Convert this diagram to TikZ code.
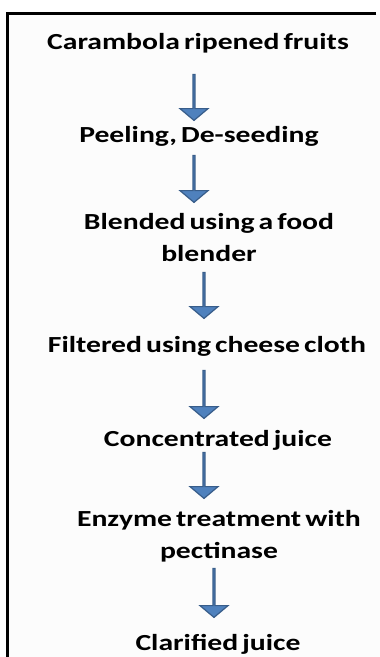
\documentclass[tikz,border=0pt]{standalone}
\usepackage{fontspec}
\setmainfont{Carlito}[WordSpace=0.6]
\usetikzlibrary{shapes.arrows}
\definecolor{arrfill}{HTML}{4F81BD}
\definecolor{arrdraw}{HTML}{385D8A}
\definecolor{panel}{HTML}{FCFCFC}
\newcommand\stretchtxt[1]{\scalebox{1.29}[1]{#1}}
\tikzset{
  stage/.style={font=\bfseries\fontsize{23}{32}\selectfont, inner sep=0pt, align=center, text=black},
  blockarrow/.style={single arrow, shape border rotate=270, draw=arrdraw, fill=arrfill, line width=1.2pt,
    inner sep=0pt, minimum width=28pt, single arrow head extend=8.5pt, single arrow tip angle=100},
  frame/.style={line width=3pt, draw=black}
}
\begin{document}
\begin{tikzpicture}[x=1pt,y=-1pt]
\useasboundingbox (0,0) rectangle (380,657);
\fill[panel] (7.5,13.5) rectangle (380,657);
\draw[frame] (376,13.5) -- (7.5,13.5) -- (7.5,657);
\node[stage] (t1) at (198,43) {\stretchtxt{Carambola ripened fruits}};
\node[stage] (t2) at (199,136) {\stretchtxt{Peeling, De-seeding}};
\node[stage] (t3) at (209,238) {\stretchtxt{Blended using a food}\\\stretchtxt{blender}};
\node[stage] (t4) at (207,346) {\stretchtxt{Filtered using cheese cloth}};
\node[stage] (t5) at (218,440) {\stretchtxt{Concentrated juice}};
\node[stage] (t6) at (219,536) {\stretchtxt{Enzyme treatment with}\\\stretchtxt{pectinase}};
\node[stage] (t7) at (218,644) {\stretchtxt{Clarified juice}};
\node[blockarrow, minimum height=46pt] (a1) at (194,97) {};
\node[blockarrow, minimum height=47pt] (a2) at (194,178.5) {};
\node[blockarrow, minimum height=46pt] (a3) at (204,295) {};
\node[blockarrow, minimum height=48pt] (a4) at (204,394) {};
\node[blockarrow, minimum height=46pt] (a5) at (204,475) {};
\node[blockarrow, minimum height=49pt] (a6) at (214,592.5) {};
\end{tikzpicture}
\end{document}
